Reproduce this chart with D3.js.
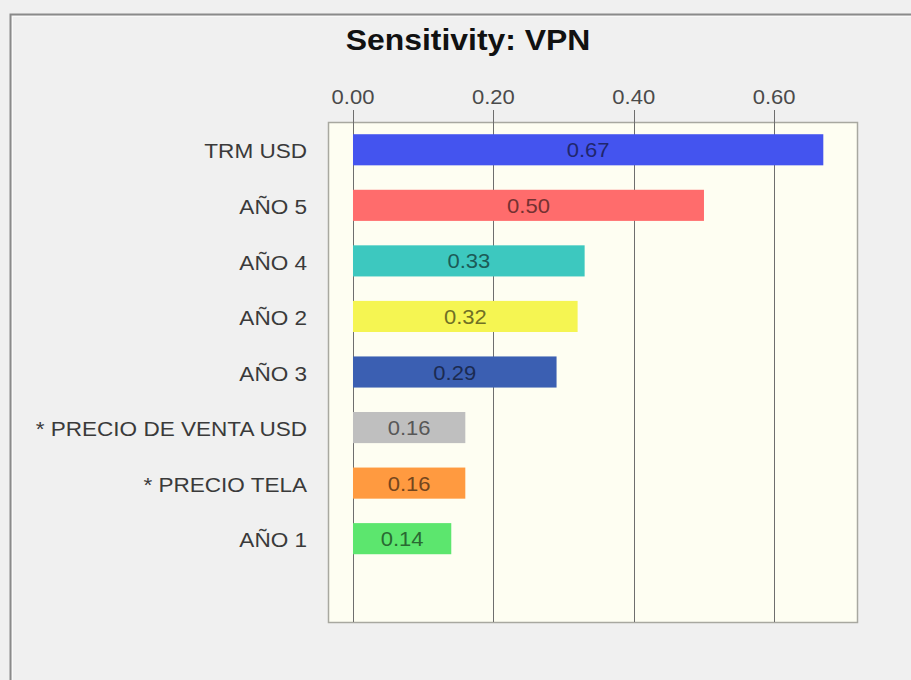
<!DOCTYPE html>
<html><head><meta charset="utf-8">
<script src="https://cdn.jsdelivr.net/npm/d3@7"></script>
<style>html,body{margin:0;padding:0;background:#f0f0f0;}svg{display:block;}</style>
</head><body>
<script>
const categories = ["TRM USD","AÑO 5","AÑO 4","AÑO 2","AÑO 3","* PRECIO DE VENTA USD","* PRECIO TELA","AÑO 1"];
const values = [0.67,0.50,0.33,0.32,0.29,0.16,0.16,0.14];
const colors = ["#4454ef","#ff6c6c","#3dc8bf","#f5f552","#3b5fb2","#bfbfbf","#ff9a40","#5ce66e"];
const tickValues = [0,0.2,0.4,0.6];
const title = "Sensitivity: VPN";

const W = 911, H = 680, SX = 1.1;
const FONT = "Liberation Sans, Arial, sans-serif";
const svg = d3.select("body").append("svg").attr("width", W).attr("height", H);
svg.append("rect").attr("width", W).attr("height", H).attr("fill", "#f0f0f0");
// outer frame
svg.append("path").attr("d", `M10.5,${H}V14.5H${W}`).attr("fill","none").attr("stroke","#8a8a8a").attr("stroke-width",2);
svg.append("path").attr("d", `M12.5,${H}V16.5H${W}`).attr("fill","none").attr("stroke","#ffffff").attr("stroke-width",1).attr("opacity",0.6);

const plot = {left:328, top:122, right:857, bottom:622};
const x = d3.scaleLinear().domain([-0.0356, 0.718]).range([plot.left, plot.right]);
const step = (plot.bottom - plot.top) / 9;
const y = d3.scaleBand().domain(categories).range([plot.top, plot.top + step*categories.length]).paddingInner(0.44).paddingOuter(0.22);

svg.append("rect").attr("x", plot.left+0.5).attr("y", plot.top+0.5)
  .attr("width", plot.right-plot.left).attr("height", plot.bottom-plot.top)
  .attr("fill","#fefef2").attr("stroke","#a8a8a0").attr("stroke-width",1.5);

function place(sel, fx, fy) {
  return sel.attr("transform", (d,i)=>`translate(${fx(d,i)},${fy(d,i)}) scale(${SX},1)`);
}

// grid lines + top tick labels
const g = svg.append("g");
g.selectAll("line.grid").data(tickValues).join("line").attr("class","grid")
  .attr("x1", d=>Math.round(x(d))+0.5).attr("x2", d=>Math.round(x(d))+0.5)
  .attr("y1", plot.top-12).attr("y2", plot.bottom)
  .attr("stroke","#6e6e6e").attr("stroke-width",1);
place(g.selectAll("text.tick").data(tickValues).join("text").attr("class","tick"), d=>x(d), ()=>104)
  .attr("text-anchor","middle")
  .attr("font-family",FONT).attr("font-size",20).attr("fill","#4a4a4a")
  .text(d=>d3.format(".2f")(d));

// bars
svg.selectAll("rect.bar").data(values).join("rect").attr("class","bar")
  .attr("x", x(0)).attr("y", (d,i)=>y(categories[i]))
  .attr("width", d=>x(d)-x(0)).attr("height", y.bandwidth())
  .attr("fill", (d,i)=>colors[i]);

// value labels
place(svg.selectAll("text.val").data(values).join("text").attr("class","val"),
  d=>(x(0)+x(d))/2, (d,i)=>y(categories[i])+y.bandwidth()/2)
  .attr("dy","0.38em").attr("text-anchor","middle")
  .attr("font-family",FONT).attr("font-size",20)
  .attr("fill", (d,i)=>d3.color(colors[i]).darker(2.2))
  .text(d=>d3.format(".2f")(d));

// category labels
place(svg.selectAll("text.cat").data(categories).join("text").attr("class","cat"),
  ()=>307, d=>y(d)+y.bandwidth()/2)
  .attr("dy","0.42em")
  .attr("text-anchor","end").attr("font-family",FONT)
  .attr("font-size",20.5).attr("fill","#3a3a3a").text(d=>d);

// title
place(svg.append("text"), ()=>468, ()=>50).attr("text-anchor","middle")
  .attr("font-family",FONT).attr("font-weight","bold")
  .attr("font-size",29).attr("fill","#111").text(title);
</script>
</body></html>
